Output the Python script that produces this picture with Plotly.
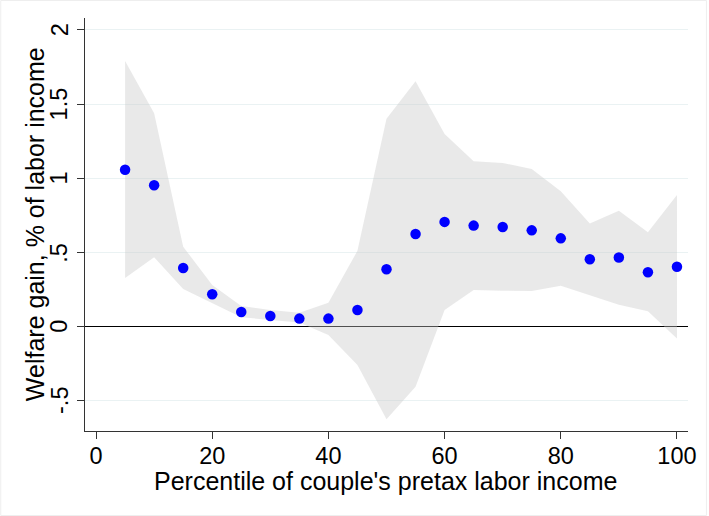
import plotly.graph_objects as go

percentile = [5, 10, 15, 20, 25, 30, 35, 40, 45, 50, 55, 60, 65, 70, 75, 80, 85, 90, 95, 100]
welfare_gain = [1.057, 0.952, 0.394, 0.217, 0.098, 0.071, 0.053, 0.053, 0.111, 0.386,
                0.624, 0.705, 0.680, 0.671, 0.648, 0.594, 0.453, 0.465, 0.366, 0.403]
ci_upper = [1.79, 1.437, 0.538, 0.279, 0.138, 0.111, 0.093, 0.160, 0.51, 1.40,
            1.653, 1.298, 1.114, 1.102, 1.062, 0.911, 0.695, 0.781, 0.635, 0.887]
ci_lower = [0.327, 0.467, 0.253, 0.156, 0.062, 0.044, 0.026, -0.057, -0.26, -0.626,
            -0.406, 0.111, 0.246, 0.241, 0.239, 0.274, 0.212, 0.146, 0.103, -0.081]

y_tickvals = [-0.5, 0, 0.5, 1, 1.5, 2]
y_ticktext = ["-.5", "0", ".5", "1", "1.5", "2"]
x_tickvals = [0, 20, 40, 60, 80, 100]
x_title = "Percentile of couple's pretax labor income"
y_title = "Welfare gain, % of labor income"

FONT = "Liberation Sans, Arial, sans-serif"

fig = go.Figure()
fig.add_trace(go.Scatter(x=percentile, y=ci_upper, mode="lines", line=dict(width=0),
                         hoverinfo="skip", showlegend=False))
fig.add_trace(go.Scatter(x=percentile, y=ci_lower, mode="lines", line=dict(width=0),
                         fill="tonexty", fillcolor="rgba(200,200,200,0.4)",
                         hoverinfo="skip", showlegend=False))
fig.add_trace(go.Scatter(x=percentile, y=welfare_gain, mode="markers",
                         marker=dict(color="#0000ff", size=10.5, line=dict(width=0)),
                         showlegend=False))

annotations = [
    dict(text=x_title, xref="paper", yref="paper", x=0.498, y=-0.12,
         xanchor="center", yanchor="middle", showarrow=False, font=dict(size=25)),
    dict(text=y_title, xref="paper", yref="paper", x=-0.0835, y=0.5,
         xanchor="center", yanchor="middle", showarrow=False, textangle=-90,
         font=dict(size=25)),
]
for val, txt in zip(y_tickvals, y_ticktext):
    annotations.append(dict(text=txt, xref="paper", yref="y", x=-0.0425, y=val,
                            xanchor="center", yanchor="middle", showarrow=False,
                            textangle=-90, font=dict(size=23.5)))

fig.update_layout(
    width=709, height=516,
    margin=dict(l=85, r=19, t=18, b=85),
    paper_bgcolor="white", plot_bgcolor="white",
    font=dict(family=FONT, size=24, color="black"),
    xaxis=dict(
        range=[-1.9, 101.9], tickvals=x_tickvals,
        showline=True, linecolor="#333", linewidth=1.2,
        ticks="outside", ticklen=7, tickcolor="#333", tickwidth=1.2,
        showgrid=False, zeroline=False,
        tickfont=dict(size=23.5), ticklabelstandoff=-3,
    ),
    yaxis=dict(
        range=[-0.705, 2.08], tickvals=y_tickvals, showticklabels=False,
        showline=True, linecolor="#333", linewidth=1.2,
        ticks="outside", ticklen=7, tickcolor="#333", tickwidth=1.2,
        showgrid=True, gridcolor="#eaf2f3", gridwidth=1.2,
        zeroline=True, zerolinecolor="black", zerolinewidth=1.3,
    ),
    annotations=annotations,
    shapes=[dict(type="rect", xref="paper", yref="paper",
                 x0=-0.1397, x1=1.0306, y0=-0.2046, y1=1.0424,
                 line=dict(color="#eeeeee", width=1), layer="below")],
)

fig.write_html("out.html", config={"displayModeBar": False},
               post_script="document.body.style.margin='0';")
